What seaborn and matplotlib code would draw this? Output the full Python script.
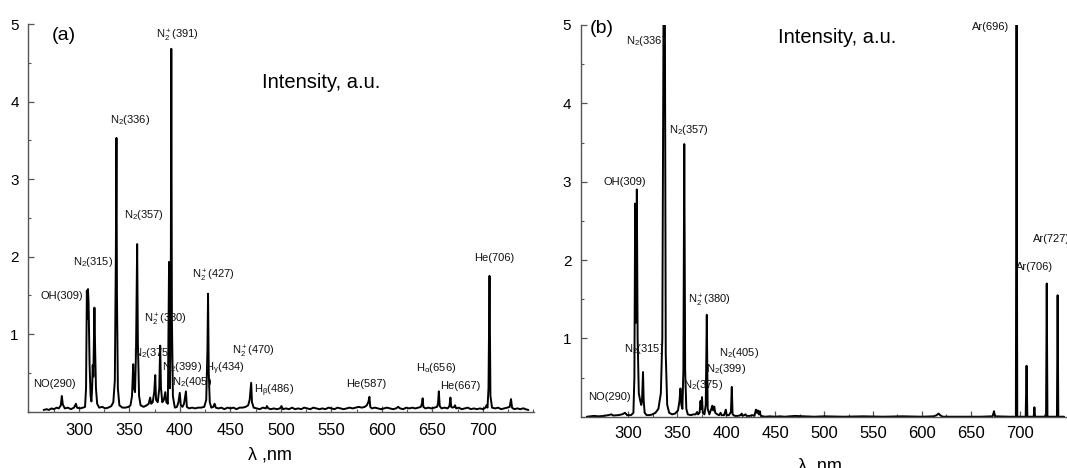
import matplotlib
matplotlib.use("Agg")
import matplotlib.pyplot as plt
import seaborn as sns
from matplotlib.ticker import MultipleLocator

# spectrum (a), (wavelength nm, intensity a.u.)
spec_a = [(265, 0.02), (268, 0.03), (270, 0.02), (273, 0.04), (275, 0.03), (278, 0.05), (280, 0.04),
          (282, 0.08), (283, 0.20), (284, 0.09), (286, 0.04), (289, 0.05), (292, 0.03), (295, 0.05),
          (297, 0.10), (298, 0.05), (301, 0.04), (304, 0.05), (306, 0.06),
          (307, 0.3), (307.8, 1.56), (308.3, 1.2), (308.9, 1.58), (309.5, 1.4), (310.5, 0.6), (311.5, 0.2),
          (312.3, 0.13), (313, 0.3), (313.6, 0.6), (314.2, 0.45), (315.3, 1.34), (316, 0.8), (316.8, 0.3),
          (318, 0.1), (320, 0.05), (323, 0.06), (326, 0.04), (329, 0.05), (332, 0.07), (334, 0.12),
          (335.5, 0.4), (336.5, 2.0), (337.1, 3.53), (337.6, 1.5), (338.5, 0.3), (340, 0.08), (343, 0.05),
          (346, 0.05), (349, 0.06), (351, 0.08), (352.5, 0.2), (353.7, 0.61), (354.5, 0.3), (355.5, 0.25),
          (356.5, 0.8), (357.6, 2.16), (358.3, 0.9), (359.5, 0.2), (361, 0.08), (364, 0.06), (367, 0.08),
          (369, 0.1), (370.5, 0.18), (371.5, 0.1), (373, 0.12), (374.5, 0.25), (375.5, 0.47), (376.3, 0.15),
          (378, 0.12), (379.5, 0.3), (380.4, 0.85), (381.2, 0.3), (382.5, 0.12), (384, 0.15), (385.5, 0.25),
          (386.5, 0.12), (388, 0.1), (389.2, 1.93), (390, 0.3), (390.8, 1.0), (391.4, 4.68), (392, 1.2),
          (393, 0.2), (394.2, 0.1), (395, 0.05), (397, 0.06), (398.5, 0.12), (399.8, 0.24), (400.8, 0.08),
          (402.5, 0.06), (404, 0.1), (405.9, 0.26), (406.8, 0.06), (409, 0.04), (412, 0.05), (415, 0.04),
          (418, 0.05), (421, 0.05), (424, 0.06), (426, 0.15), (427.2, 0.8), (427.8, 1.52), (428.5, 0.5),
          (429.5, 0.12), (431, 0.05), (433, 0.06), (434.3, 0.1), (435.5, 0.05), (438, 0.04), (441, 0.05),
          (444, 0.03), (447, 0.05), (450, 0.04), (453, 0.05), (456, 0.03), (459, 0.05), (462, 0.05),
          (465, 0.06), (467.5, 0.08), (469, 0.15), (470.5, 0.37), (471.3, 0.12), (473, 0.05), (476, 0.04),
          (479, 0.03), (482, 0.05), (485, 0.04), (486.1, 0.07), (487.5, 0.04), (490, 0.03), (493, 0.04),
          (496, 0.03), (499, 0.04), (500.5, 0.07), (502, 0.03), (505, 0.04), (508, 0.03), (511, 0.05),
          (514, 0.03), (517, 0.04), (520, 0.03), (523, 0.05), (526, 0.04), (529, 0.03), (532, 0.05),
          (535, 0.04), (538, 0.03), (541, 0.04), (544, 0.03), (547, 0.05), (550, 0.04), (553, 0.03),
          (556, 0.05), (559, 0.04), (562, 0.03), (565, 0.04), (568, 0.05), (571, 0.04), (574, 0.05),
          (577, 0.06), (580, 0.05), (583, 0.06), (585, 0.08), (586.5, 0.12), (587.6, 0.19), (588.4, 0.06),
          (590, 0.04), (593, 0.05), (596, 0.04), (599, 0.03), (602, 0.04), (605, 0.05), (608, 0.04),
          (611, 0.03), (614, 0.04), (616, 0.06), (618, 0.04), (621, 0.03), (624, 0.05), (627, 0.04),
          (630, 0.05), (633, 0.04), (636, 0.05), (638.5, 0.06), (639.5, 0.10), (640.3, 0.17), (641, 0.06),
          (643, 0.04), (646, 0.05), (649, 0.04), (652, 0.05), (654.5, 0.06), (655.5, 0.10), (656.3, 0.26),
          (657.2, 0.07), (659, 0.04), (662, 0.05), (665, 0.04), (666.8, 0.07), (667.8, 0.18), (668.6, 0.06),
          (670, 0.05), (671.5, 0.06), (672.3, 0.08), (673.5, 0.04), (676, 0.05), (679, 0.03), (682, 0.04),
          (685, 0.05), (688, 0.03), (691, 0.04), (694, 0.03), (697, 0.04), (700, 0.03), (702.5, 0.05),
          (703.5, 0.08), (704.5, 0.05), (705.5, 0.3), (706.5, 1.75), (707.4, 0.2), (709, 0.05), (712, 0.04),
          (715, 0.05), (718, 0.03), (721, 0.04), (724, 0.05), (726.5, 0.06), (727.8, 0.16), (728.8, 0.05),
          (731, 0.03), (734, 0.04), (737, 0.03), (739.5, 0.04), (740.5, 0.04), (742, 0.03), (745, 0.02)]

# spectrum (b)
spec_b = [(258, 0.0), (265, 0.01), (270, 0.005), (275, 0.01), (280, 0.02), (283, 0.03), (285, 0.015),
          (290, 0.02), (294, 0.03), (297, 0.05), (299, 0.02), (303, 0.02), (305.5, 0.05), (306.5, 0.5),
          (307.3, 2.72), (308, 1.2), (308.5, 1.5), (309, 2.9), (309.8, 1.0), (311, 0.3), (312.5, 0.2),
          (313.5, 0.15), (314.3, 0.2), (315.3, 0.57), (316, 0.2), (317, 0.05), (319, 0.02), (322, 0.02),
          (325, 0.03), (328, 0.05), (331, 0.1), (333.5, 0.3), (335, 1.0), (336.3, 5.3), (337.6, 5.3),
          (338.5, 0.8), (340, 0.15), (342, 0.05), (345, 0.03), (348, 0.04), (351, 0.08), (352.5, 0.2),
          (353.5, 0.36), (354.5, 0.15), (355.5, 0.1), (356.5, 0.6), (357.4, 3.48), (358.3, 0.6),
          (359.5, 0.1), (361, 0.03), (364, 0.02), (367, 0.03), (369, 0.03), (370.5, 0.06), (371.5, 0.03),
          (373, 0.05), (374, 0.2), (374.7, 0.1), (375.5, 0.25), (376.3, 0.05), (378, 0.03), (379.3, 0.15),
          (380.4, 1.30), (381.3, 0.1), (383, 0.03), (385, 0.1), (386, 0.14), (387, 0.08), (388, 0.13),
          (389, 0.05), (391, 0.03), (393, 0.02), (394.5, 0.05), (395.5, 0.02), (398, 0.02), (399.8, 0.09),
          (400.6, 0.02), (403, 0.02), (405, 0.06), (405.9, 0.38), (406.7, 0.03), (409, 0.01), (412, 0.01),
          (415, 0.02), (416, 0.04), (417, 0.01), (420, 0.03), (421, 0.01), (424, 0.01), (427, 0.02),
          (429, 0.01), (430.5, 0.09), (431.5, 0.05), (432.5, 0.08), (433.5, 0.03), (434.5, 0.07),
          (435.5, 0.01), (440, 0.0), (445, 0.005), (450, 0.0), (455, 0.005), (460, 0.0), (470, 0.01),
          (480, 0.005), (490, 0.0), (500, 0.005), (520, 0.0), (540, 0.005), (560, 0.0), (580, 0.005),
          (600, 0.0), (612, 0.005), (615, 0.02), (617, 0.04), (618.5, 0.02), (621, 0.0), (640, 0.0),
          (660, 0.0), (672, 0.005), (673.5, 0.07), (674.5, 0.005), (690, 0.0), (695.8, 0.0), (696.5, 5.3),
          (697.2, 0.0), (705.8, 0.0), (706.7, 0.65), (707.5, 0.0), (714, 0.0), (714.7, 0.12), (715.4, 0.0),
          (726.6, 0.0), (727.3, 1.70), (728, 0.0), (737.7, 0.0), (738.4, 1.55), (739.1, 0.0), (745, 0.0)]

lam_a = [p[0] for p in spec_a]
int_a = [p[1] for p in spec_a]
lam_b = [p[0] for p in spec_b]
int_b = [p[1] for p in spec_b]

# line labels
labels_a = ['NO(290)', 'OH(309)', r'N$_2$(315)', r'N$_2$(336)', r'N$_2$(357)', r'N$_2^+$(380)',
            r'N$_2$(375)', r'N$_2^+$(391)', r'N$_2$(399)', r'N$_2$(405)', r'N$_2^+$(427)',
            r'H$_\gamma$(434)', r'N$_2^+$(470)', r'H$_\beta$(486)', 'He(587)', r'H$_\alpha$(656)',
            'He(667)', 'He(706)']
label_x_a = [276, 283, 314, 350.5, 364, 385.6, 373.8, 397, 401.7, 411.6, 432.7, 444.6, 472.8, 493,
             584.8, 654, 678, 711]
label_y_a = [0.355, 1.49, 1.93, 3.76, 2.54, 1.18, 0.76, 4.85, 0.58, 0.385, 1.75, 0.545, 0.77, 0.27,
             0.36, 0.565, 0.33, 1.98]

labels_b = ['NO(290)', 'OH(309)', r'N$_2$(315)', r'N$_2$(336)', r'N$_2$(357)', r'N$_2$(375)',
            r'N$_2^+$(380)', r'N$_2$(399)', r'N$_2$(405)', 'Ar(696)', 'Ar(706)', 'Ar(727)']
label_x_b = [280.6, 297, 316, 317.9, 362, 376.5, 382.6, 400.5, 413, 670.4, 714.8, 732.7]
label_y_b = [0.25, 2.99, 0.87, 4.79, 3.66, 0.40, 1.48, 0.605, 0.81, 4.98, 1.91, 2.27]

y_ticks = [1, 2, 3, 4, 5]
x_ticks = [300, 350, 400, 450, 500, 550, 600, 650, 700]

sns.set_theme(style="white")
plt.rcParams['font.family'] = ['Liberation Sans', 'DejaVu Sans']
plt.rcParams['mathtext.fontset'] = 'custom'
plt.rcParams['mathtext.rm'] = 'Liberation Sans'
plt.rcParams['mathtext.it'] = 'Liberation Sans'
plt.rcParams['mathtext.default'] = 'regular'
plt.rcParams['text.color'] = 'black'

fig = plt.figure(figsize=(10.67, 4.68), dpi=100)
ax_a = fig.add_axes([0.0267, 0.1207, 0.4742, 0.828])
ax_b = fig.add_axes([0.5445, 0.1096, 0.4592, 0.837])

panels = [(ax_a, lam_a, int_a, labels_a, label_x_a, label_y_a, (250, 751), 8),
          (ax_b, lam_b, int_b, labels_b, label_x_b, label_y_b, (252, 752), 7)]

for ax, lam, inten, labs, lx, ly, xl, xpad in panels:
    sns.lineplot(x=lam, y=inten, ax=ax, color='black', linewidth=1.4, sort=False, estimator=None)
    for t, x, y in zip(labs, lx, ly):
        ax.text(x, y, t, fontsize=8, ha='center', va='center', color='#111111')
    ax.set_xlim(*xl)
    ax.set_ylim(0, 5)
    ax.set_xticks(x_ticks)
    ax.set_yticks(y_ticks)
    ax.xaxis.set_minor_locator(MultipleLocator(25))
    ax.yaxis.set_minor_locator(MultipleLocator(0.5))
    for s in ['top', 'right']:
        ax.spines[s].set_visible(False)
    for s in ['left', 'bottom']:
        ax.spines[s].set_color('#555555')
        ax.spines[s].set_linewidth(1.0)
    ax.tick_params(axis='both', which='both', direction='in', color='#555555', labelcolor='black',
                   bottom=True, left=True)
    ax.tick_params(axis='both', which='major', length=4, width=0.9)
    ax.tick_params(axis='both', which='minor', length=2, width=0.8)
    ax.tick_params(axis='x', labelsize=12, pad=xpad)
    ax.tick_params(axis='y', labelsize=11, pad=7)
    ax.set_xlabel('')
    ax.set_ylabel('')

ax_a.text(0.07, 0.97, '(a)', transform=ax_a.transAxes, fontsize=14, ha='center', va='center')
ax_b.text(0.043, 0.99, '(b)', transform=ax_b.transAxes, fontsize=14, ha='center', va='center')
ax_a.text(0.461, 0.85, 'Intensity, a.u.', transform=ax_a.transAxes, fontsize=14.5, ha='left', va='center')
ax_b.text(0.402, 0.967, 'Intensity, a.u.', transform=ax_b.transAxes, fontsize=14.5, ha='left', va='center')

fig.text(0.253, 0.045, 'λ ,nm', fontsize=13, ha='center', va='top')
fig.text(0.7685, 0.0235, 'λ, nm', fontsize=13, ha='center', va='top')

fig.savefig('out.png', dpi=100)
